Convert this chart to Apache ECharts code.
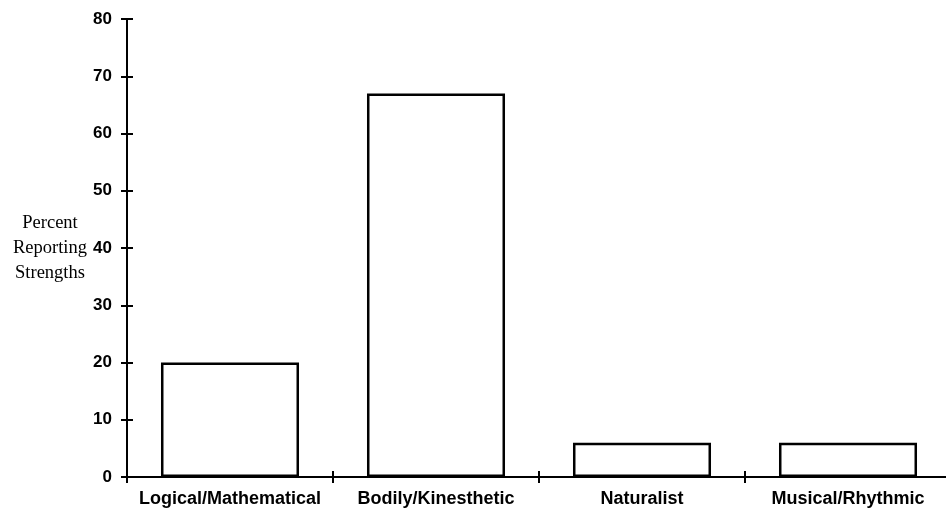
<!DOCTYPE html>
<html>
<head>
<meta charset="utf-8">
<script src="https://cdn.jsdelivr.net/npm/echarts@6/dist/echarts.min.js"></script>
<style>
  html, body { margin: 0; padding: 0; background: #fff; }
  #chart { width: 946px; height: 513px; }
</style>
</head>
<body>
<div id="chart"></div>
<script>
var categories = ['Logical/Mathematical', 'Bodily/Kinesthetic', 'Naturalist', 'Musical/Rhythmic'];
var percents = [20, 67, 6, 6];
var yTicks = [0, 10, 20, 30, 40, 50, 60, 70, 80];

var chart = echarts.init(document.getElementById('chart'));

var option = {
    backgroundColor: '#fff',
    animation: false,
    grid: {
        left: 127,
        width: 824,
        top: 19,
        bottom: 36,
        outerBoundsMode: 'none'
    },
    xAxis: [{
        type: 'category',
        data: categories,
        axisLine: { lineStyle: { color: '#000', width: 2 } },
        axisTick: { show: true, length: 6, lineStyle: { color: '#000', width: 2 } },
        axisLabel: {
            color: '#000',
            fontFamily: 'Liberation Sans, Arial, sans-serif',
            fontWeight: 'bold',
            fontSize: 18,
            margin: 13,
            interval: 0
        }
    }, {
        // overlay so the ticks cross the axis line
        type: 'category',
        data: categories,
        position: 'bottom',
        axisLine: { show: false },
        axisTick: { show: true, inside: true, length: 6, lineStyle: { color: '#000', width: 2 } },
        axisLabel: { show: false }
    }],
    yAxis: [{
        type: 'value',
        min: 0,
        max: 80,
        interval: 10,
        name: 'Percent\nReporting\nStrengths',
        nameLocation: 'middle',
        nameRotate: 0,
        nameGap: 77,
        nameTextStyle: {
            color: '#000',
            fontFamily: 'Liberation Serif, Times New Roman, serif',
            fontSize: 18.5,
            lineHeight: 25,
            align: 'center'
        },
        splitLine: { show: false },
        axisLine: { show: true, lineStyle: { color: '#000', width: 2 } },
        axisTick: { show: true, length: 6, lineStyle: { color: '#000', width: 2 } },
        axisLabel: {
            color: '#000',
            fontFamily: 'Liberation Sans, Arial, sans-serif',
            fontWeight: 'bold',
            fontSize: 17,
            margin: 15,
            formatter: function (v) { return yTicks.indexOf(v) >= 0 ? String(v) : ''; }
        }
    }, {
        type: 'value',
        min: 0,
        max: 80,
        interval: 10,
        position: 'left',
        splitLine: { show: false },
        axisLine: { show: false },
        axisTick: { show: true, inside: true, length: 6, lineStyle: { color: '#000', width: 2 } },
        axisLabel: { show: false }
    }],
    series: [{
        type: 'bar',
        data: percents,
        barWidth: '67%',
        itemStyle: {
            color: '#fff',
            borderColor: '#000',
            borderWidth: 2.5
        }
    }]
};

chart.setOption(option);
</script>
</body>
</html>
